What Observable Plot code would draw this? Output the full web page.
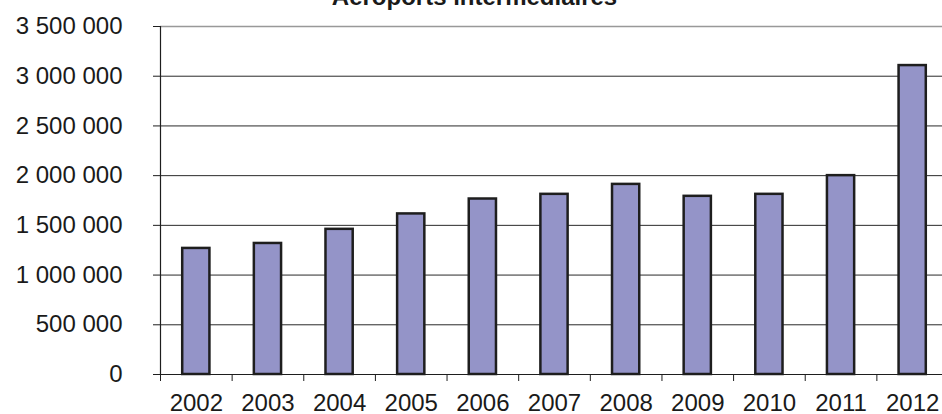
<!DOCTYPE html>
<html>
<head>
<meta charset="utf-8">
<script src="https://cdn.jsdelivr.net/npm/d3@7"></script>
<script src="https://cdn.jsdelivr.net/npm/@observablehq/plot@0.6"></script>
<style>
  html, body { margin: 0; padding: 0; background: white; overflow: hidden; }
</style>
</head>
<body>
<div id="chart"></div>
<script>
const title = "Aéroports intermédiaires";
const years = [2002, 2003, 2004, 2005, 2006, 2007, 2008, 2009, 2010, 2011, 2012];
const passengers = [1268000, 1318000, 1460000, 1615000, 1765000, 1812000, 1912000, 1792000, 1812000, 2000000, 3107000];
const gridTicks = [0, 500000, 1000000, 1500000, 2000000, 2500000, 3000000];
const topTick = [3500000];
const yTicks = [0, 500000, 1000000, 1500000, 2000000, 2500000, 3000000, 3500000];

const data = years.map((y, i) => ({year: y, value: passengers[i]}));
const boundaries = years.map(y => y - 0.5);
const fmt = v => d3.format(",")(v).replace(/,/g, " ");
const font = "'Liberation Sans', Arial, sans-serif";

const chart = Plot.plot({
  width: 942,
  height: 414,
  marginLeft: 160,
  marginRight: 0,
  marginTop: 26,
  marginBottom: 40,
  style: {fontSize: "24px", fontFamily: font, background: "white", color: "#1a1a1a"},
  x: {domain: [years[0] - 0.5, years[years.length - 1] + 0.5], range: [160, 948], axis: null, label: null},
  y: {domain: [0, 3500000], axis: null, label: null},
  marks: [
    Plot.ruleY(gridTicks, {stroke: "#2a2a2a", strokeWidth: 1}),
    Plot.ruleY(topTick, {stroke: "#999999", strokeWidth: 1.5}),
    Plot.rectY(data, {x1: d => d.year - 0.19, x2: d => d.year + 0.19, y1: 0, y2: "value", fill: "#9494c8", stroke: "#1e1e1e", strokeWidth: 2.5}),
    Plot.ruleX([years[0] - 0.5], {y1: 0, y2: 3500000, stroke: "#1e1e1e", strokeWidth: 1.2}),
    Plot.ruleY([0], {stroke: "#1e1e1e", strokeWidth: 1.2}),
    Plot.axisY({ticks: yTicks, label: null, tickSize: 7, tickPadding: 31, tickFormat: fmt, stroke: "#1e1e1e", fill: "#1a1a1a", fontSize: 24}),
    Plot.axisX({ticks: boundaries, label: null, tickSize: 7, tickFormat: () => "", stroke: "#1e1e1e"}),
    Plot.axisX({ticks: years, label: null, tickSize: 0, tickPadding: 19, tickFormat: d => String(d), fill: "#1a1a1a", fontSize: 24}),
    Plot.text([title], {frameAnchor: "top", dx: -77, dy: -22, lineAnchor: "bottom", fontWeight: "bold", fontSize: 24, fill: "#1a1a1a"})
  ]
});
document.getElementById("chart").appendChild(chart);
</script>
</body>
</html>
